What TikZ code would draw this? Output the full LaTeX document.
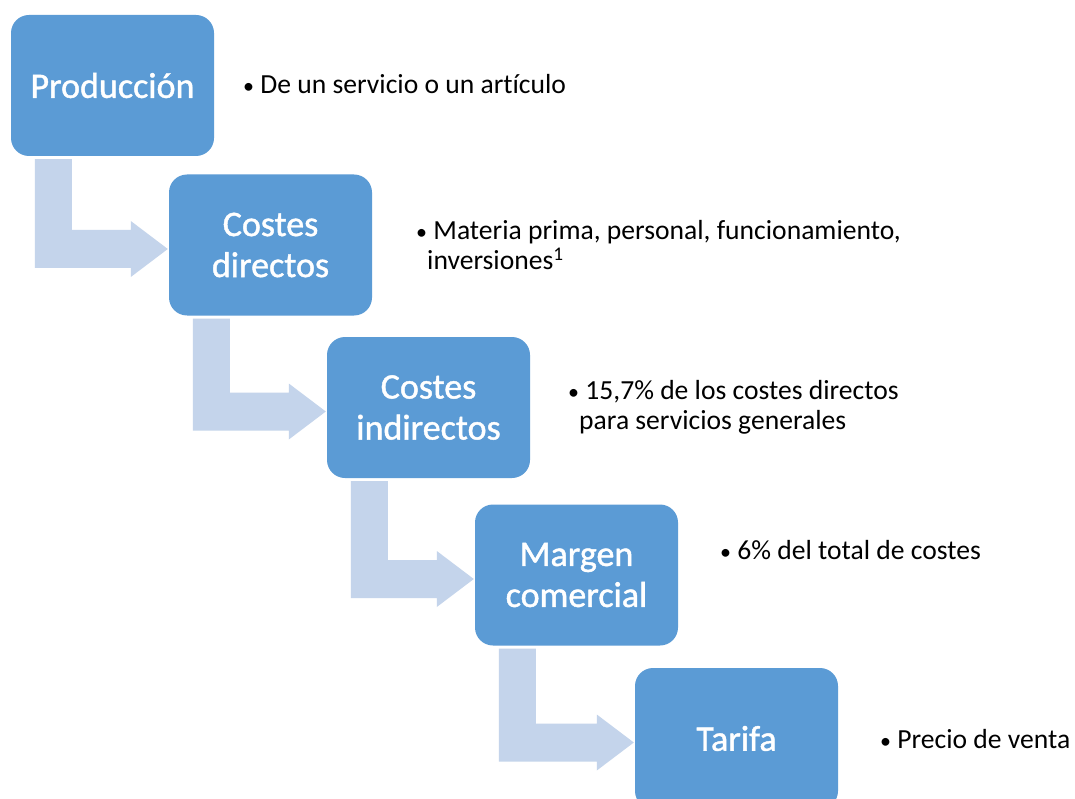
\documentclass[tikz,border=0pt]{standalone}
\usepackage{fontspec}
\setmainfont{Carlito}[Ligatures=NoCommon]
\newfontfamily\boxfont{Carlito}[Ligatures=NoCommon,FakeBold=1.2]
\usetikzlibrary{calc}
\definecolor{boxblue}{HTML}{5B9BD5}
\definecolor{arrowblue}{HTML}{C4D4EB}
\tikzset{
  stepbox/.style={rectangle, rounded corners=18pt, fill=boxblue, text=white,
    minimum width=203pt, minimum height=141pt, inner sep=0pt, align=center,
    font=\boxfont\fontsize{36}{41}\selectfont},
  desc/.style={anchor=base west, inner sep=0pt, text=black,
    font=\fontsize{27.6}{30}\selectfont},
  bentarrow/.style={fill=arrowblue}
}
\newcommand{\smallbul}{{\fontsize{22}{22}\selectfont •}\ }
\begin{document}
\begin{tikzpicture}[x=1pt,y=-1pt]
\useasboundingbox (0,0) rectangle (1075,799);
\clip (0,0) rectangle (1075,799);
\fill[white] (0,0) rectangle (1075,799);

\node[stepbox] (b1) at (112.5,85.5) {Producción};
\node[stepbox] (b2) at (270.5,245) {Costes\\directos};
\node[stepbox] (b3) at (428.5,407.5) {Costes\\indirectos};
\node[stepbox] (b4) at (576.5,575) {Margen\\comercial};
\node[stepbox] (b5) at (736.5,738.5) {Tarifa};

\foreach \a/\b in {b1/b2,b2/b3,b3/b4,b4/b5}{
  \coordinate (s) at ($(\a.south west)+(24,3)$);
  \coordinate (t) at ($(\b.west)+(-1,4)$);
  \fill[bentarrow] (s) -- ++(37,0) |- ($(t)+(-37,-19)$) -- ++(0,-9) -- (t)
     -- ++(-37,28) -- ++(0,-9) -| (s) -- cycle;
}

\node[desc] (d1) at (243,94) {\smallbul De un servicio o un artículo};
\node[desc] (d2a) at (416,240) {\smallbul Materia prima, personal, funcionamiento,};
\node[desc] (d2b) at (427,270) {inversiones\textsuperscript{1}};
\node[desc] (d3a) at (568,399) {\smallbul 15,7\% de los costes directos};
\node[desc] (d3b) at (579,429) {para servicios generales};
\node[desc] (d4) at (720,559) {\smallbul 6\% del total de costes};
\node[desc] (d5) at (880,748) {\smallbul Precio de venta};
\end{tikzpicture}
\end{document}
